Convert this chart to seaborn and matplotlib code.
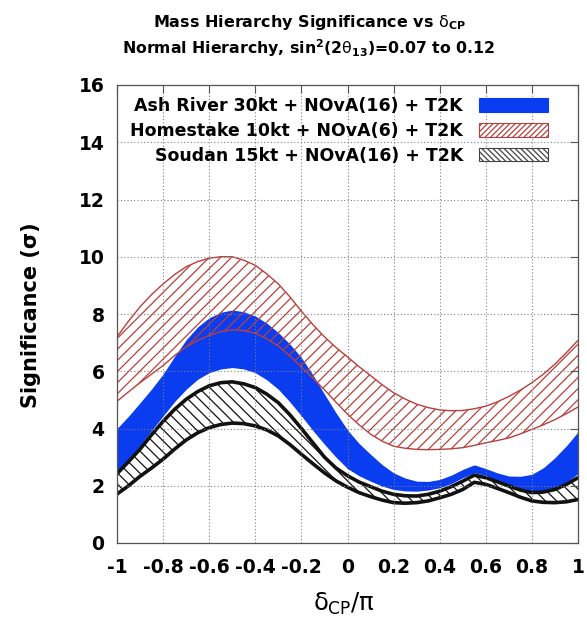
import matplotlib
matplotlib.use("Agg")
import matplotlib.pyplot as plt
import seaborn as sns
import numpy as np
import pandas as pd
from matplotlib.patches import Patch

# ---------------- data ----------------
delta_cp = [-1.0, -0.95, -0.9, -0.85, -0.8, -0.75, -0.7, -0.65, -0.6, -0.55, -0.5,
            -0.45, -0.4, -0.35, -0.3, -0.25, -0.2, -0.15, -0.1, -0.05, 0.0,
            0.05, 0.1, 0.15, 0.2, 0.25, 0.3, 0.35, 0.4, 0.45, 0.5,
            0.55, 0.6, 0.65, 0.7, 0.75, 0.8, 0.85, 0.9, 0.95, 1.0]

home_hi = [7.2, 7.75, 8.25, 8.68, 9.05, 9.38, 9.65, 9.83, 9.95, 10.0, 10.0,
           9.88, 9.7, 9.4, 9.05, 8.6, 8.1, 7.63, 7.2, 6.83, 6.5,
           6.16, 5.85, 5.53, 5.25, 5.03, 4.85, 4.73, 4.65, 4.62, 4.63,
           4.69, 4.78, 4.93, 5.12, 5.34, 5.6, 5.9, 6.25, 6.65, 7.08]
home_lo = [4.95, 5.28, 5.6, 5.9, 6.2, 6.55, 6.85, 7.08, 7.25, 7.38, 7.45,
           7.42, 7.33, 7.13, 6.88, 6.53, 6.15, 5.76, 5.35, 4.92, 4.5,
           4.13, 3.8, 3.56, 3.38, 3.31, 3.27, 3.26, 3.27, 3.29, 3.33,
           3.41, 3.5, 3.58, 3.67, 3.81, 3.97, 4.13, 4.31, 4.52, 4.75]

ash_hi = [4.0, 4.43, 4.9, 5.38, 5.9, 6.52, 7.1, 7.55, 7.87, 8.06, 8.14,
          8.08, 7.93, 7.68, 7.35, 6.95, 6.48, 5.87, 5.2, 4.55, 3.95,
          3.48, 3.1, 2.74, 2.45, 2.27, 2.16, 2.15, 2.22, 2.37, 2.57,
          2.73, 2.6, 2.45, 2.34, 2.33, 2.4, 2.63, 2.98, 3.4, 3.88]
ash_lo = [2.47, 2.92, 3.4, 3.93, 4.44, 4.94, 5.37, 5.72, 5.95, 6.08, 6.13,
          6.08, 5.95, 5.7, 5.37, 4.93, 4.44, 3.93, 3.45, 3.0, 2.6,
          2.35, 2.16, 1.99, 1.87, 1.82, 1.81, 1.85, 1.93, 2.08, 2.28,
          2.45, 2.36, 2.16, 1.99, 1.87, 1.81, 1.83, 1.93, 2.12, 2.42]

soud_hi = [2.42, 2.84, 3.28, 3.78, 4.25, 4.67, 5.02, 5.29, 5.49, 5.6, 5.63,
           5.56, 5.43, 5.2, 4.9, 4.48, 4.0, 3.5, 3.0, 2.62, 2.35,
           2.13, 1.97, 1.81, 1.7, 1.65, 1.64, 1.7, 1.81, 1.97, 2.16,
           2.37, 2.28, 2.14, 1.99, 1.85, 1.76, 1.78, 1.87, 2.05, 2.28]
soud_lo = [1.71, 2.0, 2.33, 2.62, 2.93, 3.28, 3.6, 3.85, 4.03, 4.14, 4.19,
           4.17, 4.09, 3.95, 3.74, 3.44, 3.1, 2.77, 2.45, 2.17, 1.95,
           1.76, 1.62, 1.5, 1.41, 1.39, 1.41, 1.47, 1.58, 1.7, 1.87,
           2.12, 2.05, 1.91, 1.76, 1.6, 1.47, 1.42, 1.41, 1.44, 1.52]

labels = ["Ash River 30kt + NOvA(16) + T2K",
          "Homestake 10kt + NOvA(6) + T2K",
          "Soudan 15kt + NOvA(16) + T2K"]

x_ticks = [-1, -0.8, -0.6, -0.4, -0.2, 0, 0.2, 0.4, 0.6, 0.8, 1]
x_ticklabels = ["-1", "-0.8", "-0.6", "-0.4", "-0.2", "0", "0.2", "0.4", "0.6", "0.8", "1"]
y_ticks = [0, 2, 4, 6, 8, 10, 12, 14, 16]

# ---------------- style ----------------
sns.set_theme(style="white")
plt.rcParams["font.family"] = ["DejaVu Sans"]
plt.rcParams["mathtext.fontset"] = "custom"
plt.rcParams["mathtext.rm"] = "DejaVu Sans"
plt.rcParams["mathtext.it"] = "DejaVu Sans"
plt.rcParams["mathtext.bf"] = "DejaVu Sans:bold"
plt.rcParams["hatch.linewidth"] = 0.9
plt.rcParams["text.color"] = "black"
plt.rcParams["xtick.labelcolor"] = "black"
plt.rcParams["ytick.labelcolor"] = "black"

BLUE = "#0a3cf0"
RED = "#b8403c"
BLACK = "#111111"

W, H = 587, 621
fig = plt.figure(figsize=(W / 100, H / 100), dpi=100)
ax = fig.add_axes([117 / W, 1 - 543 / H, (578 - 117) / W, (543 - 85) / H])

df = pd.DataFrame({"delta": delta_cp,
                   "ash_hi": ash_hi, "ash_lo": ash_lo,
                   "home_hi": home_hi, "home_lo": home_lo,
                   "soud_hi": soud_hi, "soud_lo": soud_lo})

# Ash River: solid blue band
ax.fill_between(df["delta"], df["ash_lo"], df["ash_hi"], color=BLUE, lw=0, zorder=1)

# Homestake: red hatched band
ax.fill_between(df["delta"], df["home_lo"], df["home_hi"], facecolor="none",
                edgecolor=RED, hatch="///", lw=0, zorder=1.2)
sns.lineplot(data=df, x="delta", y="home_hi", ax=ax, color=RED, lw=1.0, zorder=1.3)
sns.lineplot(data=df, x="delta", y="home_lo", ax=ax, color=RED, lw=1.0, zorder=1.3)

# Soudan: black hatched band with thick edges
ax.fill_between(df["delta"], df["soud_lo"], df["soud_hi"], facecolor="none",
                edgecolor=BLACK, hatch="\\\\\\", lw=0, zorder=1.4)
sns.lineplot(data=df, x="delta", y="soud_hi", ax=ax, color=BLACK, lw=2.6, zorder=1.6)
sns.lineplot(data=df, x="delta", y="soud_lo", ax=ax, color=BLACK, lw=2.6, zorder=1.6)

# axes
ax.set_xlim(-1, 1)
ax.set_ylim(0, 16)
ax.set_xticks(x_ticks)
ax.set_xticklabels(x_ticklabels)
ax.set_yticks(y_ticks)
ax.set_xlabel("")
ax.set_ylabel("")
ax.grid(True, color="#808080", ls=(0, (1, 2)), lw=0.8)
ax.set_axisbelow(False)
for s in ax.spines.values():
    s.set_color("#555555")
    s.set_linewidth(0.9)
    s.set_zorder(5)
ax.tick_params(direction="in", top=True, right=True, length=6, width=0.8,
               color="#555555", labelsize=13.5, labelcolor="black")
ax.tick_params(axis="x", pad=11)
ax.tick_params(axis="y", pad=9)
for t in ax.get_xticklabels() + ax.get_yticklabels():
    t.set_fontweight("bold")

# legend
handles = [Patch(facecolor=BLUE, edgecolor=BLUE, lw=0.8),
           Patch(facecolor="white", edgecolor=RED, hatch="//////", lw=0.8),
           Patch(facecolor="white", edgecolor="#444444", hatch="\\\\\\\\\\\\", lw=0.8)]
leg = ax.legend(handles, labels, loc="upper right",
                bbox_to_anchor=((548 - 117) / 461, (543 - 97) / 458),
                frameon=False, markerfirst=False, borderpad=0, borderaxespad=0,
                handlelength=4.0, handleheight=0.8, handletextpad=0.9,
                labelspacing=0.4, prop={"weight": "bold", "size": 12.5})
leg.set_zorder(6)
for t in leg.get_texts():
    t.set_color("black")

# texts
fig.text(31 / W, 1 - 315 / H, "Significance (σ)", rotation=90, ha="center", va="center",
         fontsize=15, fontweight="bold")
fig.text(344 / W, 1 - 604 / H, r"$\delta_{\rm CP}/\pi$", ha="center", va="center",
         fontsize=17.5)
fig.text(310 / W, 1 - 22 / H, r"Mass Hierarchy Significance vs $\delta_{\mathbf{CP}}$",
         ha="center", va="center", fontsize=11.5, fontweight="bold")
fig.text(309 / W, 1 - 48 / H,
         r"Normal Hierarchy, sin$^{\mathbf{2}}$(2$\theta_{\mathbf{13}}$)=0.07 to 0.12",
         ha="center", va="center", fontsize=11.3, fontweight="bold")

fig.savefig("out.png", dpi=100)
